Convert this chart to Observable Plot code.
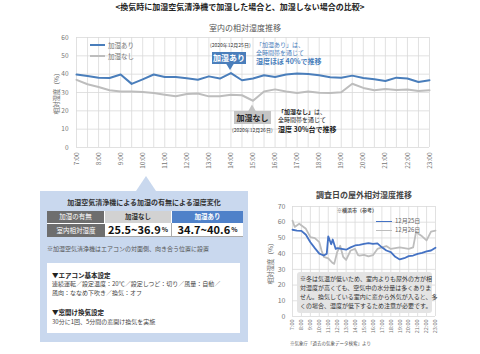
<!DOCTYPE html>
<html><head><meta charset="utf-8">
<script src="https://cdn.jsdelivr.net/npm/d3@7"></script>
<script src="https://cdn.jsdelivr.net/npm/@observablehq/plot@0.6"></script>
<style>
body{margin:0;background:#fff;font-family:"Noto Sans CJK JP","Noto Sans",sans-serif;}
#wrap{position:relative;width:480px;height:354px;overflow:hidden;background:#fff;}
.abs{position:absolute;white-space:nowrap;line-height:1;}
.cell{position:absolute;display:flex;align-items:center;justify-content:center;box-sizing:border-box;line-height:1;}
.rot{position:absolute;white-space:nowrap;transform:translate(-50%,-50%) rotate(-90deg);line-height:1;}
svg.plot{position:absolute;}
</style></head><body><div id="wrap"></div>
<script>
// ---------- data ----------
const timeLabels = ["7:00","7:30","8:00","8:30","9:00","9:30","10:00","10:30","11:00","11:30","12:00","12:30","13:00","13:30","14:00","14:30","15:00","15:30","16:00","16:30","17:00","17:30","18:00","18:30","19:00","19:30","20:00","20:30","21:00","21:30","22:00","22:30","23:00"];
const hourLabels = ["7:00","8:00","9:00","10:00","11:00","12:00","13:00","14:00","15:00","16:00","17:00","18:00","19:00","20:00","21:00","22:00","23:00"];
const seriesNames = ["加湿あり","加湿なし"];
const humidOn  = [39.8,39.0,38.1,37.9,39.8,34.7,37.2,39.8,38.5,38.5,37.8,37.0,38.8,37.6,40.6,36.7,37.6,39.4,38.5,39.8,40.3,40.1,39.4,38.3,38.1,39.2,37.9,37.2,36.3,38.1,37.6,35.7,36.7];
const humidOff = [36.9,34.5,33.0,31.2,30.6,30.6,30.3,29.7,28.8,27.9,29.2,29.5,27.9,27.9,28.8,28.5,25.5,30.6,31.7,30.5,29.7,30.6,29.9,29.7,30.1,34.8,32.5,31.2,31.9,31.4,31.6,30.8,31.2];
const indoorYTicks = [0,10,20,30,40,50,60];

const outNames = ["12月25日","12月26日"];
const out25Times = ["7:00","7:30","8:00","8:30","9:00","9:30","10:00","10:30","10:50","11:00","11:20","11:30","11:50","12:00","12:30","13:00","13:30","14:00","14:30","15:00","15:30","16:00","16:30","17:00","17:30","18:00","18:30","19:00","19:30","20:00","20:30","21:00","21:30","22:00","22:30","23:00"];
const out25 = [55.2,54.7,54.5,52,47.3,43.5,40,38.8,40,51,46,49,43,43.5,43,42.5,44,45.2,45.6,46.2,46.7,46.2,46.5,44,42,41,38,36.3,37.1,38.4,38.8,39.9,40.5,41.4,42,43.8];
const out26Times = ["7:00","7:15","7:45","8:30","9:00","9:30","10:00","10:15","10:30","11:00","11:30","11:40","12:00","12:20","12:40","13:00","13:30","14:00","14:20","14:30","15:00","15:30","16:00","16:30","17:00","17:30","18:00","18:30","19:00","19:30","20:00","20:30","20:50","21:00","21:30","22:00","22:30","23:00"];
const out26 = [61,57,59,55.8,50.5,49.9,47.3,42,38,37,34,33.5,41,45,38,36,42,43,39,38.8,39.2,38.2,39,43,44,44.8,43,43.5,44,43.5,43,44,54,53,51,48.4,54,54.7];
const outdoorYTicks = [0,10,20,30,40,50,60,70];

const tableHeader = ["加湿の有無","加湿なし","加湿あり"];
const tableRowLabel = "室内相対湿度";
const tableRanges = ["25.5~36.9","34.7~40.6"];

// ---------- helpers ----------
const FONT = '"Noto Sans CJK JP","Noto Sans",sans-serif';
const parseT = s => { const [h, m] = s.split(":").map(Number); return h + m / 60; };
const wrap = document.getElementById("wrap");
function add(html) { wrap.insertAdjacentHTML("beforeend", html); }

const BLUE = "#4a7ebb", GRAY = "#bdbdbd", GRID = "#d9d9d9";

// ---------- chart 1 data ----------
const indoor = [];
timeLabels.forEach((t, i) => {
  indoor.push({t: parseT(t), v: humidOn[i], s: seriesNames[0]});
  indoor.push({t: parseT(t), v: humidOff[i], s: seriesNames[1]});
});
const hourTicks = hourLabels.map(parseT);
const halfTicks = timeLabels.map(parseT);

add(`<div class="abs" style="left:0;width:480px;top:3px;text-align:center;font-size:8px;font-weight:bold;color:#222;">&lt;換気時に加湿空気清浄機で加湿した場合と、加湿しない場合の比較&gt;</div>`);
add(`<div class="abs" style="left:209px;top:24px;font-size:8px;color:#555;">室内の相対湿度推移</div>`);

const c1 = Plot.plot({
  width: 480, height: 155,
  marginLeft: 76, marginRight: 51, marginTop: 15, marginBottom: 30,
  style: {background: "transparent", fontFamily: FONT, fontSize: "6.5px", color: "#777", position: "absolute", left: "0px", top: "22px"},
  x: {domain: [7, 23]},
  y: {domain: [0, 60]},
  color: {domain: seriesNames, range: [BLUE, GRAY]},
  marks: [
    Plot.ruleX(halfTicks, {stroke: GRID, strokeWidth: 0.8}),
    Plot.ruleY(indoorYTicks, {stroke: GRID, strokeWidth: 0.8}),
    Plot.axisX({ticks: hourTicks, tickFormat: d => hourLabels[hourTicks.indexOf(d)], tickRotate: -90, tickSize: 0, tickPadding: 5, label: null, fontSize: 6.5, fill: "#777"}),
    Plot.axisY({ticks: indoorYTicks, tickSize: 0, tickPadding: 8, label: null, fontSize: 6.5, fill: "#777"}),
    Plot.line(indoor.filter(d => d.s === seriesNames[1]), {x: "t", y: "v", stroke: GRAY, strokeWidth: 2}),
    Plot.line(indoor.filter(d => d.s === seriesNames[0]), {x: "t", y: "v", stroke: BLUE, strokeWidth: 2})
  ]
});
wrap.appendChild(c1);

add(`<div class="rot" style="left:56px;top:92px;font-size:6.5px;color:#666;">相対湿度（%）</div>`);
// legend
add(`<div class="abs" style="left:90px;top:44px;width:15px;height:2px;background:${BLUE}"></div>`);
add(`<div class="abs" style="left:108px;top:42px;font-size:6.5px;color:#777;">${seriesNames[0]}</div>`);
add(`<div class="abs" style="left:90px;top:55px;width:15px;height:2px;background:${GRAY}"></div>`);
add(`<div class="abs" style="left:108px;top:53px;font-size:6.5px;color:#777;">${seriesNames[1]}</div>`);

// annotations
add(`<div class="abs" style="left:210px;top:42px;font-size:5px;color:#333;">(2020年12月25日)</div>`);
add(`<div class="cell" style="left:212px;top:52px;width:34px;height:12px;background:${BLUE};color:#fff;font-size:8px;font-weight:bold;">加湿あり</div>`);
add(`<svg class="abs" style="left:0;top:0" width="480" height="354"><polygon points="226,63.5 234,63.5 230,70" fill="${BLUE}"/><polygon points="248,111.5 256,111.5 252,104.5" fill="#c4c4c4"/><polygon points="136,191 156,191 146,176" fill="#c9d8ee"/></svg>`);
add(`<div class="abs" style="left:256px;top:41.5px;font-size:6px;color:${BLUE};">「加湿あり」は、</div>`);
add(`<div class="abs" style="left:256px;top:49.5px;font-size:6px;color:${BLUE};">全時間帯を通じて</div>`);
add(`<div class="abs" style="left:256px;top:58px;font-size:7px;font-weight:bold;color:${BLUE};">湿度ほぼ 40%で推移</div>`);

add(`<div class="cell" style="left:234px;top:111px;width:37px;height:13px;background:#c4c4c4;color:#222;font-size:8px;font-weight:bold;">加湿なし</div>`);
add(`<div class="abs" style="left:232px;top:126.5px;font-size:5px;color:#333;">(2020年12月26日)</div>`);
add(`<div class="abs" style="left:278px;top:109px;font-size:6px;color:#222;"><b>「加湿なし」</b>は、</div>`);
add(`<div class="abs" style="left:278px;top:117px;font-size:6px;color:#222;">全時間帯を通じて</div>`);
add(`<div class="abs" style="left:278px;top:125.5px;font-size:7px;font-weight:bold;color:#222;">湿度 30%台で推移</div>`);

// ---------- panel ----------
add(`<div class="abs" style="left:40px;top:191px;width:208px;height:151px;background:#c9d8ee;"></div>`);
add(`<div class="abs" style="left:40px;width:208px;top:198.5px;text-align:center;font-size:7px;font-weight:bold;color:#333;">加湿空気清浄機による加湿の有無による湿度変化</div>`);
add(`<div class="cell" style="left:47px;top:210.5px;width:58px;height:12px;background:#6e6e6e;color:#fff;font-size:6.5px;border-right:1px solid #fff;">${tableHeader[0]}</div>`);
add(`<div class="cell" style="left:105px;top:210.5px;width:67px;height:12px;background:#d2d2d2;color:#333;font-size:6.5px;font-weight:bold;border-right:1px solid #fff;">${tableHeader[1]}</div>`);
add(`<div class="cell" style="left:172px;top:210.5px;width:71px;height:12px;background:#4f81c9;color:#fff;font-size:6.5px;font-weight:bold;">${tableHeader[2]}</div>`);
add(`<div class="cell" style="left:47px;top:222.5px;width:58px;height:14.5px;background:#6e6e6e;color:#fff;font-size:6.5px;border-top:1px solid #fff;">${tableRowLabel}</div>`);
add(`<div class="cell" style="left:105px;top:222.5px;width:67px;height:14.5px;background:#fff;color:#111;font-size:11px;font-weight:bold;border-right:1px solid #aaa;border-bottom:1px solid #aaa;">${tableRanges[0]}<span style="font-size:6.5px;margin-left:1px;">%</span></div>`);
add(`<div class="cell" style="left:172px;top:222.5px;width:71px;height:14.5px;background:#fff;color:#111;font-size:11px;font-weight:bold;border-bottom:1px solid #aaa;">${tableRanges[1]}<span style="font-size:6.5px;margin-left:1px;">%</span></div>`);
add(`<div class="abs" style="left:47px;top:246px;font-size:6px;color:#555;">※加湿空気清浄機はエアコンの対面側、向き合う位置に設置</div>`);
add(`<div class="abs" style="left:47px;top:263px;width:193px;height:70px;background:#fff;"></div>`);
add(`<div class="abs" style="left:52px;top:272px;font-size:6.5px;font-weight:bold;color:#222;">▼エアコン基本設定</div>`);
add(`<div class="abs" style="left:52px;top:281px;font-size:6px;color:#444;">連続運転／設定温度：20℃／設定しつど：切り／風量：自動／</div>`);
add(`<div class="abs" style="left:52px;top:290px;font-size:6px;color:#444;">風向：ななめ下吹き／換気：オフ</div>`);
add(`<div class="abs" style="left:52px;top:309px;font-size:6.5px;font-weight:bold;color:#222;">▼窓開け換気設定</div>`);
add(`<div class="abs" style="left:52px;top:319px;font-size:6px;color:#444;">30分に1回、5分間の窓開け換気を実施</div>`);

// ---------- chart 2 ----------
const outdoor = [];
out25Times.forEach((t, i) => outdoor.push({t: parseT(t), v: out25[i], s: outNames[0]}));
out26Times.forEach((t, i) => outdoor.push({t: parseT(t), v: out26[i], s: outNames[1]}));

add(`<div class="abs" style="left:240px;width:248px;top:191px;text-align:center;font-size:8px;font-weight:bold;color:#444;">調査日の屋外相対湿度推移</div>`);
const c2 = Plot.plot({
  width: 200, height: 150,
  marginLeft: 37, marginRight: 20, marginTop: 6, marginBottom: 34,
  style: {background: "transparent", fontFamily: FONT, fontSize: "7px", color: "#777", position: "absolute", left: "255px", top: "200px"},
  x: {domain: [7, 23]},
  y: {domain: [0, 70]},
  marks: [
    Plot.ruleX(hourTicks, {stroke: GRID, strokeWidth: 0.8}),
    Plot.ruleY(outdoorYTicks, {stroke: GRID, strokeWidth: 0.8}),
    Plot.axisX({ticks: hourTicks, tickFormat: d => hourLabels[hourTicks.indexOf(d)], tickRotate: -90, tickSize: 0, tickPadding: 3, label: null, fontSize: 5.5, fill: "#777"}),
    Plot.axisY({ticks: outdoorYTicks, tickSize: 0, tickPadding: 7, label: null, fontSize: 7, fill: "#777"}),
    Plot.line(outdoor.filter(d => d.s === outNames[1]), {x: "t", y: "v", stroke: GRAY, strokeWidth: 1.8}),
    Plot.line(outdoor.filter(d => d.s === outNames[0]), {x: "t", y: "v", stroke: "#4472c4", strokeWidth: 1.8})
  ]
});
wrap.appendChild(c2);

add(`<div class="rot" style="left:270px;top:262px;font-size:6.5px;color:#666;">相対湿度（%）</div>`);
add(`<div class="abs" style="left:337px;top:206.5px;font-size:5px;font-weight:bold;color:#555;">※横浜市（参考）</div>`);
add(`<div class="abs" style="left:376px;top:220.5px;width:16px;height:1.8px;background:#4472c4"></div>`);
add(`<div class="abs" style="left:395px;top:217.5px;font-size:6px;color:#666;">${outNames[0]}</div>`);
add(`<div class="abs" style="left:376px;top:229.5px;width:16px;height:1.8px;background:${GRAY}"></div>`);
add(`<div class="abs" style="left:395px;top:227px;font-size:6px;color:#666;">${outNames[1]}</div>`);
add(`<div class="abs" style="left:297px;top:272px;width:135px;height:41px;background:#e4e4e4;border-radius:3px;"></div>`);
add(`<div class="abs" style="left:300px;top:275.5px;font-size:6px;color:#333;">※冬は気温が低いため、室内よりも屋外の方が相</div>`);
add(`<div class="abs" style="left:300px;top:284.5px;font-size:6px;color:#333;">対湿度が高くても、空気中の水分量は多くありま</div>`);
add(`<div class="abs" style="left:300px;top:293.5px;font-size:6px;color:#333;">せん。換気している室内に窓から外気が入ると、多</div>`);
add(`<div class="abs" style="left:300px;top:302.5px;font-size:6px;color:#333;">くの場合、湿度が低下するため注意が必要です。</div>`);
add(`<div class="abs" style="left:290px;top:341px;font-size:4.5px;color:#555;">※気象庁「過去の気象データ検索」より</div>`);
</script></body></html>
